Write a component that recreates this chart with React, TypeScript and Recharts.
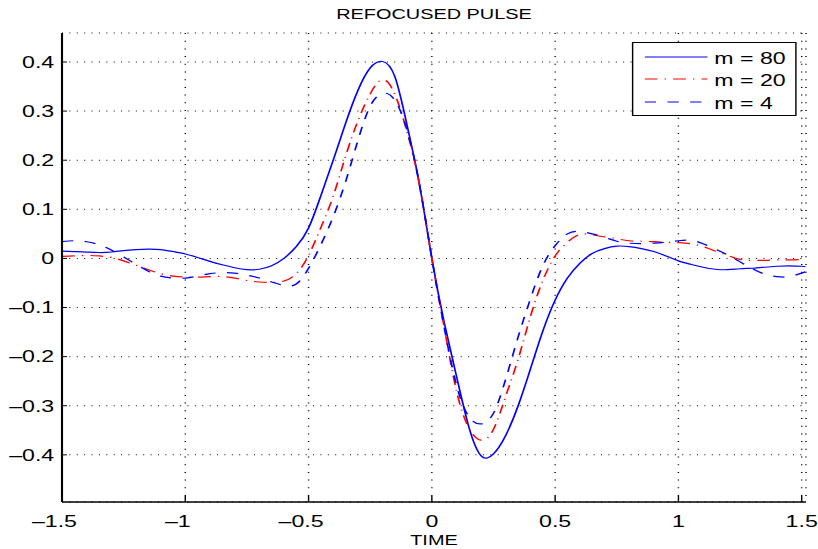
import { LineChart, Line, XAxis, YAxis, CartesianGrid } from 'recharts'

// time axis samples and the three refocused pulses
const time = [
  -1.5, -1.45, -1.4, -1.35, -1.3, -1.25, -1.2, -1.15, -1.1, -1.05, -1.0, -0.95, -0.9, -0.85, -0.8, -0.75,
  -0.7, -0.65, -0.6, -0.55, -0.5, -0.45, -0.4, -0.35, -0.3, -0.25, -0.2, -0.15, -0.1, -0.05, 0, 0.05,
  0.1, 0.15, 0.2, 0.25, 0.3, 0.35, 0.4, 0.45, 0.5, 0.55, 0.6, 0.65, 0.7, 0.75, 0.8, 0.85,
  0.9, 0.95, 1.0, 1.05, 1.1, 1.15, 1.2, 1.25, 1.3, 1.35, 1.4, 1.45, 1.5, 1.515,
]

const m80 = [
  0.015, 0.014, 0.013, 0.012, 0.013, 0.016, 0.018, 0.019, 0.018, 0.014, 0.009, 0.002, -0.006, -0.013, -0.019, -0.023,
  -0.022, -0.015, 0.0, 0.024, 0.062, 0.128, 0.2, 0.275, 0.342, 0.388, 0.401, 0.37, 0.27, 0.15, 0.0, -0.13,
  -0.24, -0.343, -0.402, -0.398, -0.36, -0.3, -0.225, -0.148, -0.085, -0.04, -0.01, 0.01, 0.02, 0.025, 0.024, 0.02,
  0.014, 0.005, -0.005, -0.012, -0.018, -0.022, -0.023, -0.021, -0.02, -0.018, -0.016, -0.015, -0.016, -0.017,
]

const m20 = [
  0.004, 0.005, 0.006, 0.005, 0.002, -0.005, -0.014, -0.023, -0.031, -0.036, -0.038, -0.038, -0.037, -0.037, -0.04, -0.045,
  -0.048, -0.049, -0.046, -0.031, 0.006, 0.063, 0.127, 0.208, 0.28, 0.335, 0.364, 0.334, 0.257, 0.15, 0.0, -0.14,
  -0.27, -0.345, -0.37, -0.348, -0.28, -0.205, -0.118, -0.045, 0.005, 0.033, 0.049, 0.048, 0.044, 0.04, 0.036, 0.035,
  0.034, 0.033, 0.032, 0.03, 0.024, 0.015, 0.006, -0.002, -0.004, -0.004, -0.003, -0.003, -0.002, -0.002,
]

const m4 = [
  0.034, 0.036, 0.034, 0.028, 0.017, 0.003, -0.012, -0.026, -0.036, -0.04, -0.04, -0.036, -0.031, -0.029, -0.03, -0.034,
  -0.04, -0.048, -0.055, -0.052, -0.02, 0.028, 0.085, 0.156, 0.24, 0.31, 0.336, 0.322, 0.26, 0.15, 0.0, -0.14,
  -0.258, -0.322, -0.337, -0.315, -0.245, -0.16, -0.082, -0.015, 0.026, 0.05, 0.055, 0.05, 0.043, 0.035, 0.031, 0.03,
  0.031, 0.033, 0.036, 0.037, 0.03, 0.019, 0.007, -0.007, -0.021, -0.032, -0.037, -0.037, -0.03, -0.027,
]

const xTicks = [-1.5, -1, -0.5, 0, 0.5, 1, 1.5]
const yTicks = [-0.4, -0.3, -0.2, -0.1, 0, 0.1, 0.2, 0.3, 0.4]

const series = [
  { key: 'm80', name: 'm = 80', color: '#0000ff', dash: undefined as string | undefined },
  { key: 'm20', name: 'm = 20', color: '#ff0000', dash: '9 5 1 5' },
  { key: 'm4', name: 'm = 4', color: '#0000ff', dash: '8 8' },
]

const data = time.map((t, i) => ({ t, m80: m80[i], m20: m20[i], m4: m4[i] }))

// the original figure is stretched horizontally, so the whole chart is drawn narrow and scaled
const S = 1.42
const W = 818 / S
const PLOT_LEFT = 62 / S
const PLOT_RIGHT = 806 / S
const FONT = '"Liberation Sans", Arial, Helvetica, sans-serif'

const fmt = (v: number) => (v === 0 ? '0' : String(v).replace('-', '–'))

function XTick({ x, y, payload }: any) {
  return (
    <text x={x} y={y} dx={payload.value < 0 ? -5.3 : 0} dy="0.71em" textAnchor="middle" fontSize={16.3} fill="#000" fontFamily={FONT}>
      {fmt(payload.value)}
    </text>
  )
}

function LegendBox() {
  return (
    <div
      style={{
        position: 'absolute',
        left: 632 / S,
        top: 41.7,
        width: (796 - 632) / S,
        height: 74.6,
        boxSizing: 'border-box',
        border: '1px solid #000',
        background: '#fff',
        paddingTop: 4,
      }}
    >
      {series.map((s) => (
        <div key={s.key} style={{ position: 'relative', height: 22.8 }}>
          <svg width={44.2} height={22.8} style={{ position: 'absolute', left: 8.4, top: 0 }}>
            <line x1={0} x2={44.2} y1={10} y2={10} stroke={s.color} strokeWidth={1.2} strokeDasharray={s.dash} />
          </svg>
          <span style={{ position: 'absolute', left: 57, top: 0, fontSize: 16.3, lineHeight: '22.8px', whiteSpace: 'nowrap' }}>
            {s.name}
          </span>
        </div>
      ))}
    </div>
  )
}

export default function App() {
  const xDomain = [-1.5, 1.5174]
  const yDomain = [-0.496, 0.459]
  return (
    <div style={{ position: 'absolute', left: 0, top: 0, width: 818, height: 549, overflow: 'hidden', background: '#fff' }}>
      <div style={{ position: 'relative', width: W, height: 549, transform: `scaleX(${S})`, transformOrigin: '0 0', fontFamily: FONT }}>
        <LineChart width={W} height={549} data={data} margin={{ top: 33, right: W - PLOT_RIGHT, bottom: 17, left: 8 }}>
          <CartesianGrid vertical={false} stroke="#000" strokeDasharray="0.7 4.5" />
          <CartesianGrid horizontal={false} stroke="#000" strokeDasharray="1 6.7" />
          <XAxis
            dataKey="t"
            type="number"
            domain={xDomain}
            ticks={xTicks}
            interval={0}
            allowDataOverflow
            height={30}
            tickSize={-6}
            tickMargin={19}
            tick={<XTick />}
            axisLine={{ stroke: '#000', strokeWidth: 1.5 }}
            tickLine={{ stroke: '#000' }}
          />
          <XAxis
            xAxisId="top"
            orientation="top"
            dataKey="t"
            type="number"
            domain={xDomain}
            ticks={xTicks}
            interval={0}
            allowDataOverflow
            height={0}
            tickSize={-6}
            tick={false}
            axisLine={{ stroke: '#000', strokeWidth: 1.5 }}
            tickLine={{ stroke: '#000' }}
          />
          <YAxis
            type="number"
            domain={yDomain}
            ticks={yTicks}
            interval={0}
            allowDataOverflow
            width={PLOT_LEFT - 8}
            tickSize={-3.5}
            tickMargin={9}
            tickFormatter={fmt}
            tick={{ fill: '#000', fontSize: 16.3, fontFamily: FONT }}
            axisLine={{ stroke: '#000', strokeWidth: 1.5 }}
            tickLine={{ stroke: '#000' }}
          />
          <YAxis
            yAxisId="right"
            orientation="right"
            type="number"
            domain={yDomain}
            ticks={yTicks}
            interval={0}
            allowDataOverflow
            width={0}
            tickSize={-3.5}
            tick={false}
            axisLine={{ stroke: '#000', strokeWidth: 1.5 }}
            tickLine={{ stroke: '#000' }}
          />
          {series.map((s) => (
            <Line
              key={s.key}
              dataKey={s.key}
              name={s.name}
              type="natural"
              stroke={s.color}
              strokeWidth={1.2}
              strokeDasharray={s.dash}
              dot={false}
              activeDot={false}
              isAnimationActive={false}
            />
          ))}
        </LineChart>
        <div
          style={{
            position: 'absolute',
            left: PLOT_LEFT,
            width: PLOT_RIGHT - PLOT_LEFT,
            top: 6.5,
            fontSize: 14,
            lineHeight: '14px',
            textAlign: 'center',
          }}
        >
          REFOCUSED PULSE
        </div>
        <div
          style={{
            position: 'absolute',
            left: PLOT_LEFT,
            width: PLOT_RIGHT - PLOT_LEFT,
            top: 532.5,
            fontSize: 14,
            lineHeight: '14px',
            textAlign: 'center',
          }}
        >
          TIME
        </div>
        <LegendBox />
      </div>
    </div>
  )
}
